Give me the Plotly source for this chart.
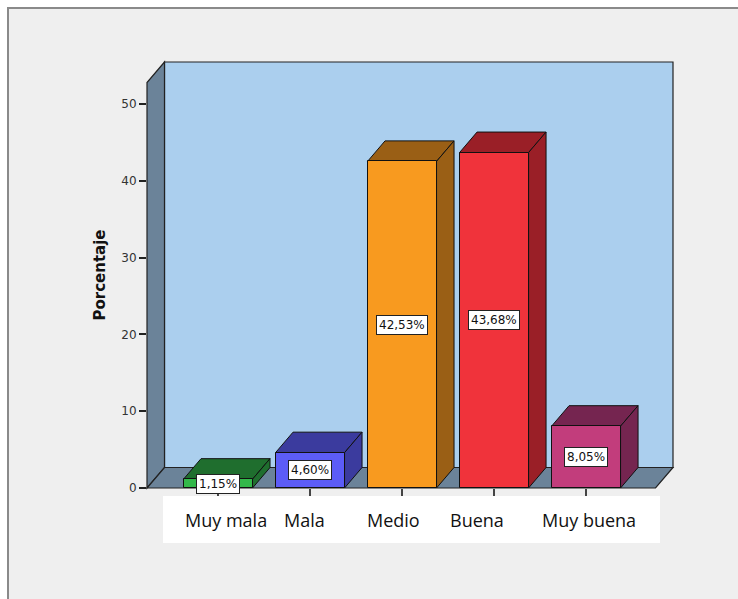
import plotly.graph_objects as go

# Survey result: percentage of answers per rating
categories = ["Muy mala", "Mala", "Medio", "Buena", "Muy buena"]
percentages = [1.15, 4.60, 42.53, 43.68, 8.05]
y_ticks = [0, 10, 20, 30, 40, 50]

front_colors = ["#33b84a", "#5c5cf7", "#f89a1f", "#f0333b", "#c23d7c"]
shade_colors = ["#1f6e2e", "#3b3b9e", "#9a5f15", "#9a1f27", "#752550"]

W, H = 738, 599
L, R, T, B = 147, 65, 62, 111          # margins -> plot area 147..673 x 62..488
PW, PH = W - L - R, H - T - B
Y_MAX = 55.47
X_MIN, X_MAX = -0.772, 4.945
DX_PX, DY_PX = 17.5, 20.5               # depth offset of the 3D scene
BAR_W = 0.75

dx = DX_PX / PW * (X_MAX - X_MIN)       # depth offset in data units
dy = DY_PX / PH * Y_MAX
pdx, pdy = DX_PX / PW, DY_PX / PH       # depth offset in paper units


def px_x(p):
    return (p - L) / PW


def px_y(p):
    return (H - B - p) / PH


def poly(pts):
    return "M " + " L ".join(f"{a},{b}" for a, b in pts) + " Z"


shapes = []
# frame around the chart
shapes.append(dict(type="rect", xref="paper", yref="paper", layer="below",
                   x0=px_x(8), x1=px_x(760), y0=px_y(8), y1=px_y(620),
                   fillcolor="#efefef", line=dict(color="#8a8a8a", width=2)))
# back wall
shapes.append(dict(type="path", xref="paper", yref="paper", layer="below",
                   path=poly([(pdx, pdy), (1, pdy), (1, 1), (pdx, 1)]),
                   fillcolor="#abcfee", line=dict(color="#222", width=1.2)))
# left wall
top_front = 1 - pdy
shapes.append(dict(type="path", xref="paper", yref="paper", layer="below",
                   path=poly([(0, 0), (0, top_front), (pdx, 1), (pdx, pdy)]),
                   fillcolor="#6b8399", line=dict(color="#222", width=1.2)))
# floor
shapes.append(dict(type="path", xref="paper", yref="paper", layer="below",
                   path=poly([(0, 0), (1 - pdx, 0), (1, pdy), (pdx, pdy)]),
                   fillcolor="#6b8399", line=dict(color="#222", width=1.2)))

# top and side faces of every bar, derived from its value
for i, (v, c) in enumerate(zip(percentages, shade_colors)):
    xl, xr = i - BAR_W / 2, i + BAR_W / 2
    shapes.append(dict(type="path", xref="x", yref="y", layer="below",
                       path=poly([(xl, v), (xr, v), (xr + dx, v + dy), (xl + dx, v + dy)]),
                       fillcolor=c, line=dict(color="#111", width=1)))
    shapes.append(dict(type="path", xref="x", yref="y", layer="below",
                       path=poly([(xr, 0), (xr, v), (xr + dx, v + dy), (xr + dx, dy)]),
                       fillcolor=c, line=dict(color="#111", width=1)))

# white panel holding the category names
shapes.append(dict(type="rect", xref="paper", yref="paper", layer="above",
                   x0=px_x(163), x1=px_x(660), y0=px_y(496), y1=px_y(543),
                   fillcolor="white", line=dict(width=0)))

fig = go.Figure(go.Bar(
    x=list(range(len(categories))), y=percentages, width=BAR_W,
    marker=dict(color=front_colors, line=dict(color="#111", width=1)),
    hoverinfo="skip",
))

annotations = []
for i, v in enumerate(percentages):
    annotations.append(dict(
        x=i, y=v / 2, xref="x", yref="y", showarrow=False,
        text=f"{v:.2f}".replace(".", ",") + "%",
        font=dict(family="DejaVu Sans", size=12, color="#111"),
        bgcolor="white", bordercolor="#222", borderwidth=1, borderpad=2,
    ))

label_shift = [8, -6, -9, -17, 3]
for i, name in enumerate(categories):
    annotations.append(dict(
        x=i, y=px_y(520), xref="x", yref="paper", yanchor="middle",
        showarrow=False, xshift=label_shift[i], text=name,
        font=dict(family="Open Sans", size=18, color="#111"),
    ))

fig.update_layout(
    width=W, height=H,
    margin=dict(l=L, r=R, t=T, b=B, pad=0),
    paper_bgcolor="white", plot_bgcolor="rgba(0,0,0,0)",
    showlegend=False, shapes=shapes, annotations=annotations,
    bargap=0,
    xaxis=dict(range=[X_MIN, X_MAX], tickvals=list(range(len(categories))),
               showticklabels=False, ticks="outside", ticklen=8,
               tickcolor="#444", tickwidth=1.5,
               showgrid=False, zeroline=False, showline=False),
    yaxis=dict(range=[0, Y_MAX], tickvals=y_ticks, ticks="outside", ticklen=7,
               tickcolor="#222", tickwidth=1.5,
               tickfont=dict(family="DejaVu Sans", size=12, color="#333"),
               showgrid=False, zeroline=False, showline=False,
               title=dict(text="<b>Porcentaje</b>", standoff=12,
                          font=dict(family="DejaVu Sans", size=15, color="#111"))),
)

fig.write_html("out.html")
